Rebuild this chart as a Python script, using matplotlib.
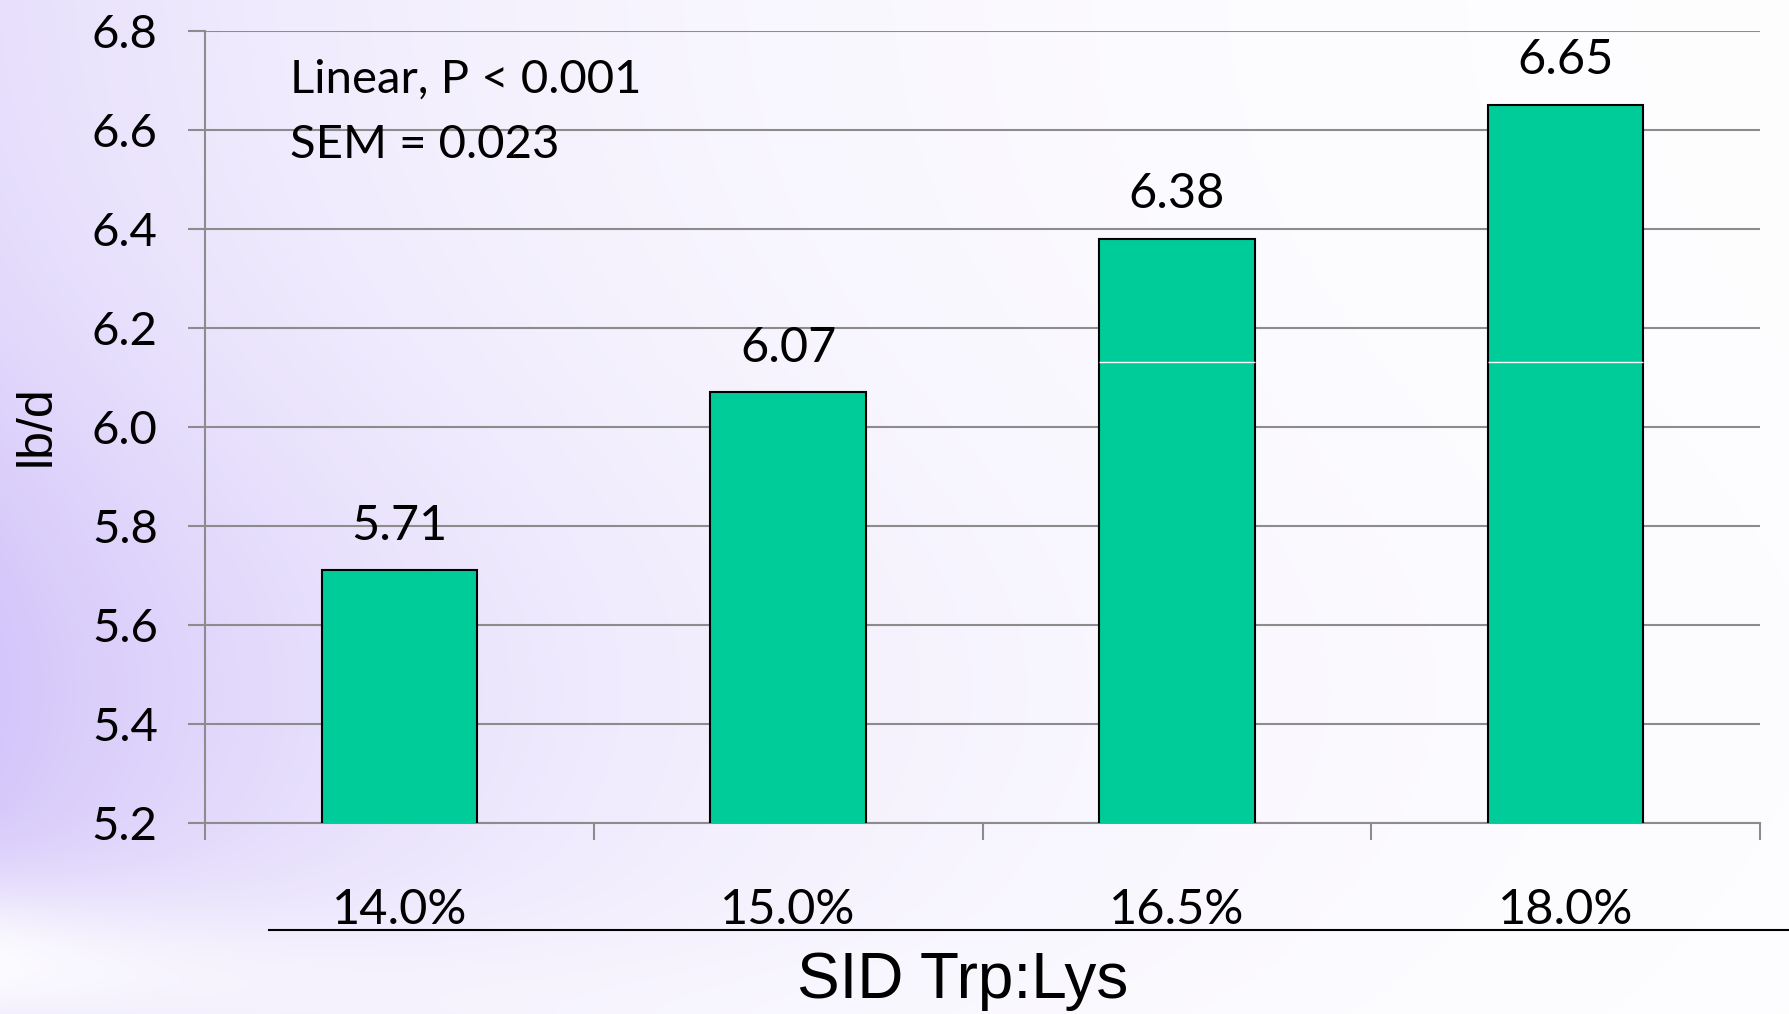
import numpy as np
import matplotlib
matplotlib.use("Agg")
import matplotlib.pyplot as plt
from matplotlib.lines import Line2D

# Data
categories = ["14.0%", "15.0%", "16.5%", "18.0%"]
values = [5.71, 6.07, 6.38, 6.65]
y_ticks = [5.2, 5.4, 5.6, 5.8, 6.0, 6.2, 6.4, 6.6, 6.8]
stats_lines = ["Linear, P < 0.001", "SEM = 0.023"]
x_title = "SID Trp:Lys"
y_title = "lb/d"

W, H, DPI = 1789, 1014, 100
fig = plt.figure(figsize=(W / DPI, H / DPI), dpi=DPI)

# Lavender slide background fading to white on the right
yy, xx = np.mgrid[0:H, 0:W]
xn = xx / W
yn = yy / H
strength = np.exp(-xn / 0.33) * (0.55 + 0.45 * np.exp(-((yn - 0.68) / 0.33) ** 2))
# soft white streak across the lower left corner
streak = np.exp(-((yn - (0.95 + 0.12 * xn)) / 0.08) ** 2) * np.exp(-xn / 0.3)
strength = np.clip(strength * (1 - 0.92 * streak), 0, 1)
lav = np.array([212, 198, 250]) / 255.0
white = np.array([1.0, 1.0, 1.0])
bg = white[None, None, :] * (1 - strength[..., None]) + lav[None, None, :] * strength[..., None]
bg_ax = fig.add_axes([0, 0, 1, 1], zorder=-10)
bg_ax.imshow(bg, aspect="auto", extent=[0, 1, 0, 1], origin="upper")
bg_ax.axis("off")

left, right = 205 / W, 1760 / W
bottom, top = 1 - 823 / H, 1 - 30.5 / H
ax = fig.add_axes([left, bottom, right - left, top - bottom])
ax.patch.set_visible(False)

grid_color = "#8C8C8C"
bar_width = 0.4
x = np.arange(len(categories))
ax.bar(x, values, width=bar_width, color="#00CC99", edgecolor="black", linewidth=1.5, zorder=3)

ax.set_xlim(-0.5, len(categories) - 0.5)
ax.set_ylim(5.2, 6.8)
ax.set_yticks(y_ticks)
ax.set_yticklabels([f"{t:.1f}" for t in y_ticks])
ax.yaxis.grid(True, color=grid_color, linewidth=1.5, zorder=0)
ax.set_axisbelow(True)

for side in ("top", "right"):
    ax.spines[side].set_visible(False)
for side in ("left", "bottom"):
    ax.spines[side].set_color(grid_color)
    ax.spines[side].set_linewidth(1.5)

ax.tick_params(axis="y", direction="out", length=12, width=1.5, color=grid_color,
               labelsize=34, pad=22)
ax.set_xticks(x)
ax.set_xticklabels(categories)
ax.tick_params(axis="x", which="major", length=0, labelsize=35, pad=47)
ax.set_xticks(np.arange(len(categories) + 1) - 0.5, minor=True)
ax.tick_params(axis="x", which="minor", direction="out", length=12, width=1.5, color=grid_color)
for lab in ax.get_xticklabels() + ax.get_yticklabels():
    lab.set_fontfamily(["Lato", "DejaVu Sans"])

# Thin white line crossing the tall bars
line_level = 6.13
for xi, v in zip(x, values):
    if v > line_level:
        ax.hlines(line_level, xi - bar_width / 2, xi + bar_width / 2, color="white",
                  linewidth=1.0, zorder=4)

# Value labels above the bars
for xi, v in zip(x, values):
    ax.annotate(f"{v:.2f}", xy=(xi, v), xytext=(0, 32), textcoords="offset points",
                ha="center", va="center", fontsize=35, family=["Lato", "DejaVu Sans"])

# Statistics note
fig.text(290 / W, 1 - 80 / H, stats_lines[0], ha="left", va="center", fontsize=34,
         family=["Lato", "DejaVu Sans"])
fig.text(290 / W, 1 - 145 / H, stats_lines[1], ha="left", va="center", fontsize=34,
         family=["Lato", "DejaVu Sans"])

# Rule beneath the category labels
fig.add_artist(Line2D([269 / W, 1.0], [1 - 930 / H, 1 - 930 / H], color="black",
                      linewidth=1.5, transform=fig.transFigure))

# Axis titles
fig.text(963 / W, 1 - 981 / H, x_title, ha="center", va="center", fontsize=46,
         family=["Liberation Sans", "DejaVu Sans"])
fig.text(37 / W, 1 - 426 / H, y_title, ha="center", va="center", rotation=90, fontsize=36,
         family=["Liberation Sans", "DejaVu Sans"])

fig.savefig("out.png", dpi=DPI)
